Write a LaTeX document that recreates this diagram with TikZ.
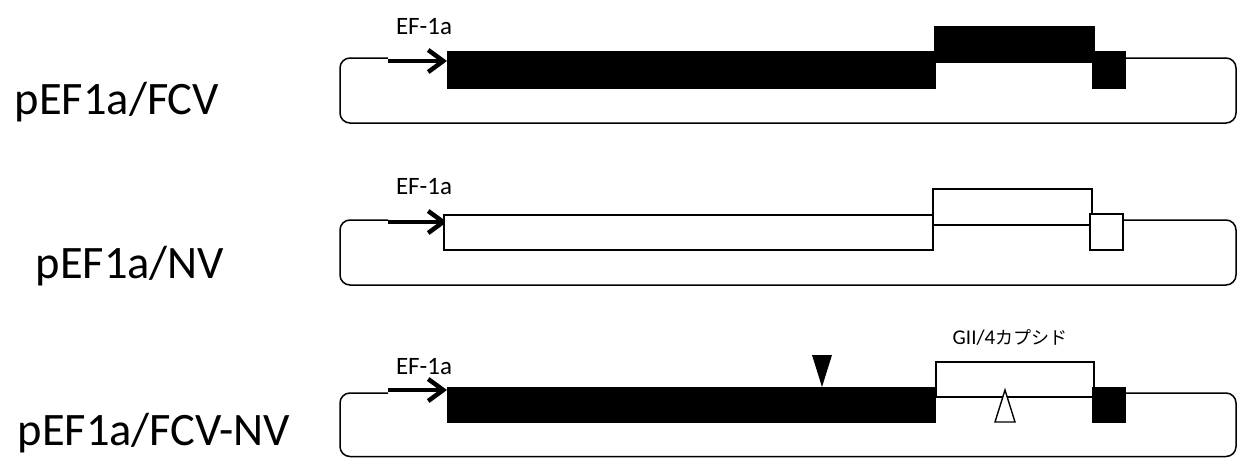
\documentclass[tikz,border=0pt]{standalone}
\usepackage{fontspec}
\setmainfont{Carlito}
\newfontfamily\jpfont{Noto Sans CJK JP}
\usetikzlibrary{arrows.meta}

\begin{document}
\begin{tikzpicture}[
 x=1pt,y=-1pt,
 every node/.style={inner sep=0pt},
 backbone/.style={line width=1.5pt,rounded corners=10pt},
 promoter/.style={line width=4pt,-{Straight Barb[length=15pt,width=22pt,line width=4.5pt]}},
 orf/.style={draw,line width=1.4pt},
 plasmid/.style={anchor=center,font=\fontsize{46.5}{52}\selectfont},
 tag/.style={anchor=center,font=\fontsize{25}{28}\selectfont}
]
 \useasboundingbox (0,0) rectangle (1240,458);

 % Backbone, promoter arrow and EF-1a label of each construct.
 % {backbone top/bottom, arrow height, label height, row name}
 \foreach \top/\bot/\ar/\lab/\row in {58/123/61/27/a,220/285/222/187/b,393/456.5/390/367/c}{
  \draw[backbone] (388,\top) -| (340,\bot) -| (1236,\top) -- (1124,\top);
  \draw[promoter] (388,\ar) -- (447,\ar);
  \node[tag] (ef-\row) at (424,\lab) {EF-1a};
 }

 % pEF1a/FCV
 \node[plasmid] (fcv) at (117,102) {pEF1a/FCV};
 \fill (447,51) rectangle (936,89);
 \fill (934,26) rectangle (1095,63);
 \fill (1092,51) rectangle (1126,89);

 % pEF1a/NV
 \node[plasmid] (nv) at (130,266) {pEF1a/NV};
 \draw[orf,fill=white] (444,215) rectangle (933,250);
 \draw[orf,fill=white] (933,189) rectangle (1092,225);
 \draw[orf,fill=white] (1090,214) rectangle (1123,250);

 % pEF1a/FCV-NV
 \node[plasmid] (fcvnv) at (154,433) {pEF1a/FCV-NV};
 \fill (447,387) rectangle (936,423);
 \draw[orf,fill=white] (936,362) rectangle (1094,397);
 \fill (1092,387) rectangle (1126,423);
 \fill (812,355) -- (832,355) -- (822,387) -- cycle;
 \draw[orf,fill=white] (1005,390) -- (995,422) -- (1015,422) -- cycle;
 \node[tag,font=\fontsize{21}{24}\selectfont] (capsid) at (1010,337) {GII/4{\jpfont\fontsize{18}{24}\selectfont カプシド}};
\end{tikzpicture}
\end{document}
